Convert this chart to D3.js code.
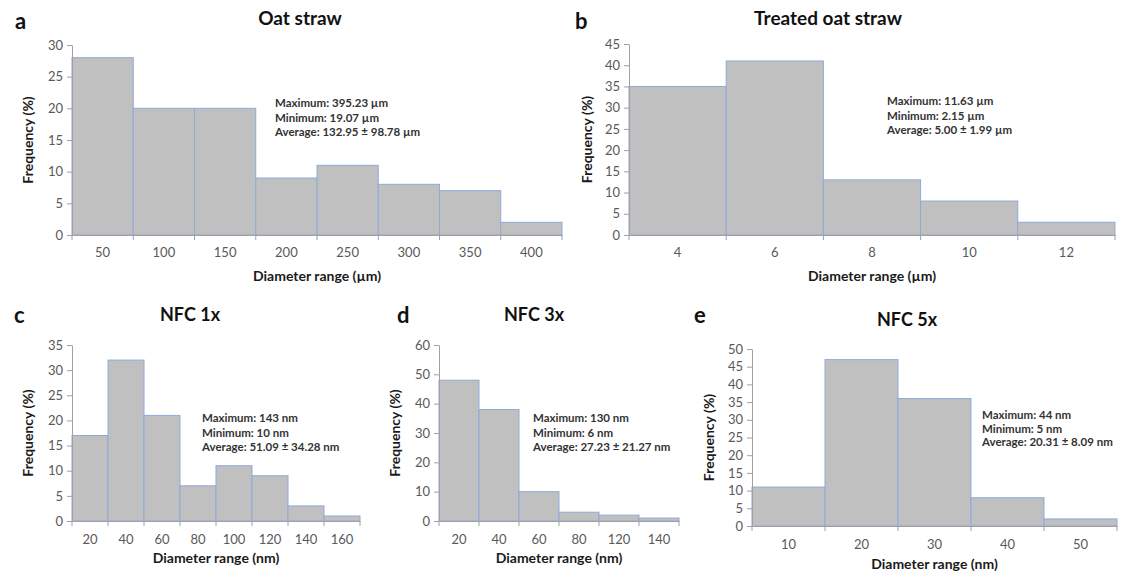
<!DOCTYPE html>
<html>
<head>
<meta charset="utf-8">
<script src="https://cdn.jsdelivr.net/npm/d3@7"></script>
<style>
  html, body { margin: 0; padding: 0; background: #ffffff; }
  svg { display: block; font-family: Lato, "Open Sans", sans-serif; }
</style>
</head>
<body>
<svg id="chart" width="1121" height="578"></svg>
<script>
// ---------- data ----------
const aCategories = ["50", "100", "150", "200", "250", "300", "350", "400"];
const aValues = [28, 20, 20, 9, 11, 8, 7, 2];
const aYTicks = [0, 5, 10, 15, 20, 25, 30];
const aStats = ["Maximum: 395.23 \u00b5m", "Minimum: 19.07 \u00b5m", "Average: 132.95 \u00b1 98.78 \u00b5m"];

const bCategories = ["4", "6", "8", "10", "12"];
const bValues = [35, 41, 13, 8, 3];
const bYTicks = [0, 5, 10, 15, 20, 25, 30, 35, 40, 45];
const bStats = ["Maximum: 11.63 \u00b5m", "Minimum: 2.15 \u00b5m", "Average: 5.00 \u00b1 1.99 \u00b5m"];

const cCategories = ["20", "40", "60", "80", "100", "120", "140", "160"];
const cValues = [17, 32, 21, 7, 11, 9, 3, 1];
const cYTicks = [0, 5, 10, 15, 20, 25, 30, 35];
const cStats = ["Maximum: 143 nm", "Minimum: 10 nm", "Average: 51.09 \u00b1 34.28 nm"];

const dCategories = ["20", "40", "60", "80", "120", "140"];
const dValues = [48, 38, 10, 3, 2, 1];
const dYTicks = [0, 10, 20, 30, 40, 50, 60];
const dStats = ["Maximum: 130 nm", "Minimum: 6 nm", "Average: 27.23 \u00b1 21.27 nm"];

const eCategories = ["10", "20", "30", "40", "50"];
const eValues = [11, 47, 36, 8, 2];
const eYTicks = [0, 5, 10, 15, 20, 25, 30, 35, 40, 45, 50];
const eStats = ["Maximum: 44 nm", "Minimum: 5 nm", "Average: 20.31 \u00b1 8.09 nm"];

const panelLetters = ["a", "b", "c", "d", "e"];
const panelTitles = ["Oat straw", "Treated oat straw", "NFC 1x", "NFC 3x", "NFC 5x"];
const xTitles = ["Diameter range (\u00b5m)", "Diameter range (\u00b5m)", "Diameter range (nm)", "Diameter range (nm)", "Diameter range (nm)"];
const yTitle = "Frequency (%)";

// ---------- layout ----------
const svg = d3.select("#chart");

const layouts = [
  { x0: 72,  x1: 562,  y0: 235, y1: 45,  letter: [15, 29],  title: [300, 25], tSize: 19, stats: [275, 107], sGap: 14.5, yT: 33,  xT: 281, tickY: 257 },
  { x0: 629, x1: 1115, y0: 235, y1: 44,  letter: [575, 29], title: [828, 25], tSize: 19, stats: [887, 105], sGap: 14.5, yT: 592, xT: 281, tickY: 257 },
  { x0: 72,  x1: 360,  y0: 521, y1: 345, letter: [14, 323], title: [190, 321], tSize: 18, stats: [202, 422], sGap: 14.5, yT: 33,  xT: 563, tickY: 544 },
  { x0: 439, x1: 679,  y0: 521, y1: 345, letter: [397, 323], title: [534, 321], tSize: 18, stats: [533, 422], sGap: 14.5, yT: 400, xT: 563, tickY: 544 },
  { x0: 752, x1: 1117, y0: 526, y1: 349, letter: [694, 323], title: [907, 326], tSize: 18, stats: [982, 419], sGap: 13.5, yT: 714, xT: 569, tickY: 549 }
];

const panels = [
  { cats: aCategories, vals: aValues, ticks: aYTicks, stats: aStats },
  { cats: bCategories, vals: bValues, ticks: bYTicks, stats: bStats },
  { cats: cCategories, vals: cValues, ticks: cYTicks, stats: cStats },
  { cats: dCategories, vals: dValues, ticks: dYTicks, stats: dStats },
  { cats: eCategories, vals: eValues, ticks: eYTicks, stats: eStats }
];

const axisColor = "#a0a0a0";
const labelColor = "#595959";

panels.forEach((p, i) => {
  const L = layouts[i];
  const g = svg.append("g");

  const x = d3.scaleBand().domain(p.cats).range([L.x0, L.x1]).padding(0);
  const y = d3.scaleLinear().domain([0, d3.max(p.ticks)]).range([L.y0, L.y1]);

  // bars
  g.selectAll("rect.bar")
    .data(p.cats.map((c, k) => ({ c, v: p.vals[k] })))
    .enter().append("rect")
    .attr("class", "bar")
    .attr("x", d => x(d.c))
    .attr("y", d => y(d.v))
    .attr("width", x.bandwidth())
    .attr("height", d => y(0) - y(d.v))
    .attr("fill", "#c0c0c0")
    .attr("stroke", "#8eaadb")
    .attr("stroke-width", 1);

  // y axis
  const yAxis = g.append("g")
    .attr("transform", `translate(${L.x0},0)`)
    .call(d3.axisLeft(y).tickValues(p.ticks).tickSize(5).tickSizeOuter(0).tickPadding(4));
  yAxis.select(".domain").attr("stroke", axisColor);
  yAxis.selectAll(".tick line").attr("stroke", axisColor);
  yAxis.selectAll(".tick text").attr("fill", labelColor).style("font-size", "13px").style("font-family", "Lato, sans-serif");

  // x axis (labels centered under bars, ticks at category boundaries)
  const xAxis = g.append("g")
    .attr("transform", `translate(0,${L.y0})`)
    .call(d3.axisBottom(x).tickSize(0).tickSizeOuter(0).tickPadding(0));
  xAxis.select(".domain").attr("stroke", axisColor);
  xAxis.selectAll(".tick text")
    .attr("fill", labelColor)
    .attr("y", L.tickY - L.y0)
    .attr("dy", 0)
    .style("font-size", "13px")
    .style("font-family", "Lato, sans-serif");
  const bounds = p.cats.map(c => x(c)).concat([x(p.cats[p.cats.length - 1]) + x.bandwidth()]);
  g.selectAll("line.xtick")
    .data(bounds)
    .enter().append("line")
    .attr("class", "xtick")
    .attr("x1", d => d).attr("x2", d => d)
    .attr("y1", L.y0).attr("y2", L.y0 + 5)
    .attr("stroke", axisColor);

  // panel letter
  svg.append("text")
    .attr("x", L.letter[0]).attr("y", L.letter[1])
    .attr("font-size", 22).attr("font-weight", "bold").attr("fill", "#111")
    .text(panelLetters[i]);

  // title
  svg.append("text")
    .attr("x", L.title[0]).attr("y", L.title[1])
    .attr("text-anchor", "middle")
    .attr("font-size", L.tSize).attr("font-weight", "bold").attr("fill", "#111")
    .text(panelTitles[i]);

  // axis titles
  svg.append("text")
    .attr("x", (L.x0 + L.x1) / 2).attr("y", L.xT)
    .attr("text-anchor", "middle")
    .attr("font-size", 14).attr("font-weight", "bold").attr("fill", "#1a1a1a")
    .text(xTitles[i]);
  svg.append("text")
    .attr("transform", `translate(${L.yT},${(L.y0 + L.y1) / 2}) rotate(-90)`)
    .attr("text-anchor", "middle")
    .attr("font-size", 14).attr("font-weight", "bold").attr("fill", "#1a1a1a")
    .text(yTitle);

  // stats
  const st = svg.append("text")
    .attr("x", L.stats[0]).attr("y", L.stats[1])
    .attr("font-size", 11.5).attr("font-weight", "bold").attr("fill", "#333");
  p.stats.forEach((s, k) => {
    st.append("tspan").attr("x", L.stats[0]).attr("dy", k === 0 ? 0 : L.sGap).text(s);
  });
});
</script>
</body>
</html>
